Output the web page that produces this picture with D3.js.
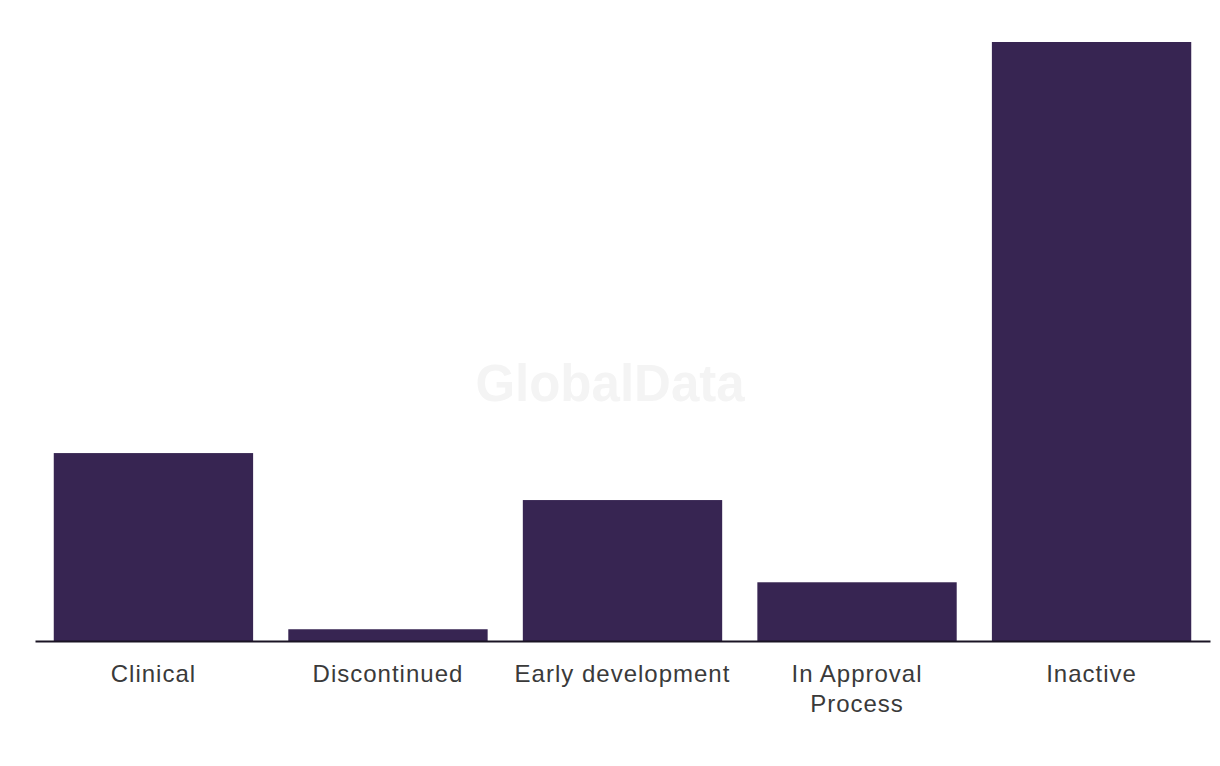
<!DOCTYPE html>
<html>
<head>
<meta charset="utf-8">
<script src="https://cdn.jsdelivr.net/npm/d3@7"></script>
<style>
  html, body { margin: 0; padding: 0; background: #ffffff; }
  svg { display: block; }
</style>
</head>
<body>
<svg id="chart" width="1220" height="766"></svg>
<script>
const categories = ["Clinical", "Discontinued", "Early development", "In Approval Process", "Inactive"];
const labelLines = [["Clinical"], ["Discontinued"], ["Early development"], ["In Approval", "Process"], ["Inactive"]];
const values = [16, 1, 12, 5, 51];

const W = 1220, H = 766;
const margin = { left: 35, right: 10, top: 42, bottom: 125 };
const svg = d3.select("#chart");

const x = d3.scaleBand()
  .domain(categories)
  .range([margin.left, W - margin.right])
  .paddingInner(0.15)
  .paddingOuter(0.08);

const y = d3.scaleLinear()
  .domain([0, d3.max(values)])
  .range([H - margin.bottom, margin.top]);

// watermark
svg.append("text")
  .attr("x", 610).attr("y", 401)
  .attr("text-anchor", "middle")
  .attr("font-family", "Liberation Sans, Arial, sans-serif")
  .attr("font-weight", "bold")
  .attr("font-size", 51)
  .attr("fill", "#f4f4f4")
  .text("GlobalData");

svg.append("g").selectAll("rect")
  .data(values)
  .join("rect")
  .attr("x", (d, i) => x(categories[i]))
  .attr("width", x.bandwidth())
  .attr("y", d => y(d))
  .attr("height", d => y(0) - y(d))
  .attr("fill", "#372552");

const axis = svg.append("g")
  .attr("transform", `translate(0,${y(0)})`)
  .call(d3.axisBottom(x).tickSize(0).tickFormat(() => ""));
axis.select(".domain").attr("stroke", "#1a1424").attr("stroke-width", 2);

const lbl = svg.append("g").selectAll("text")
  .data(categories)
  .join("text")
  .attr("x", d => x(d) + x.bandwidth() / 2)
  .attr("y", y(0) + 41)
  .attr("text-anchor", "middle")
  .attr("font-family", "Liberation Sans, Arial, sans-serif")
  .attr("font-size", 24)
  .attr("letter-spacing", 1)
  .attr("fill", "#3a3a3a");
lbl.each(function(d, i) {
  const t = d3.select(this);
  labelLines[i].forEach((line, j) => {
    t.append("tspan")
      .attr("x", x(d) + x.bandwidth() / 2)
      .attr("dy", j === 0 ? 0 : 30)
      .text(line);
  });
});
</script>
</body>
</html>
